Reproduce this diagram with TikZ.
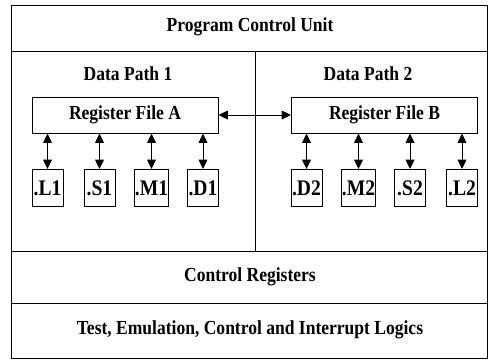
\documentclass[tikz,border=0pt]{standalone}
\usepackage{fontspec}
\setmainfont{Liberation Serif}[FakeStretch=0.88]
\usetikzlibrary{arrows.meta,positioning}

\begin{document}
\begin{tikzpicture}[x=0.03cm, y=-0.03cm, line width=0.8pt,
		lbl/.style={font=\bfseries\fontsize{17}{20}\selectfont},
		regfile/.style={draw, lbl, minimum width=5.58cm, minimum height=1.08cm, inner sep=0pt},
		unit/.style={draw, font=\bfseries\fontsize{19}{22}\selectfont, minimum width=0.93cm, minimum height=1.11cm, inner sep=0pt},
		biarrow/.style={{Triangle[length=8pt,width=7.5pt]}-{Triangle[length=8pt,width=7.5pt]}}]
	\useasboundingbox (0,0) rectangle (489,360);
	% Frame and bands
	\draw (11,5) rectangle (487.5,358);
	\draw (11,51) -- (487.5,51);
	\draw (11,251) -- (487.5,251);
	\draw (11,303) -- (487.5,303);
	\draw (255,51) -- (255,251);

	\node[lbl] (pcu) at (250,27) {Program Control Unit};
	\node[lbl] (dp1) at (128,74) {Data Path 1};
	\node[lbl] (dp2) at (368,74) {Data Path 2};

	% Register files
	\node[regfile] (rfa) at (125,115) {Register File A};
	\node[regfile] (rfb) at (384.5,115) {Register File B};
	\draw[biarrow] (rfa) -- (rfb);

	% Functional units
	\node[unit] (l1) at (47.5,188) {.L1};
	\node[unit] (s1) at (99.5,188) {.S1};
	\node[unit] (m1) at (151.5,188) {.M1};
	\node[unit] (d1) at (203,188) {.D1};
	\node[unit] (d2) at (306.5,188) {.D2};
	\node[unit] (m2) at (358.5,188) {.M2};
	\node[unit] (s2) at (410,188) {.S2};
	\node[unit] (l2) at (462,188) {.L2};
	\foreach \u in {l1,s1,m1,d1}
		\draw[biarrow] (\u) -- (\u |- rfa.south);
	\foreach \u in {d2,m2,s2,l2}
		\draw[biarrow] (\u) -- (\u |- rfb.south);

	\node[lbl] (creg) at (250,277) {Control Registers};
	\node[lbl] (tecl) at (250,330) {Test, Emulation, Control and Interrupt Logics};
\end{tikzpicture}
\end{document}
